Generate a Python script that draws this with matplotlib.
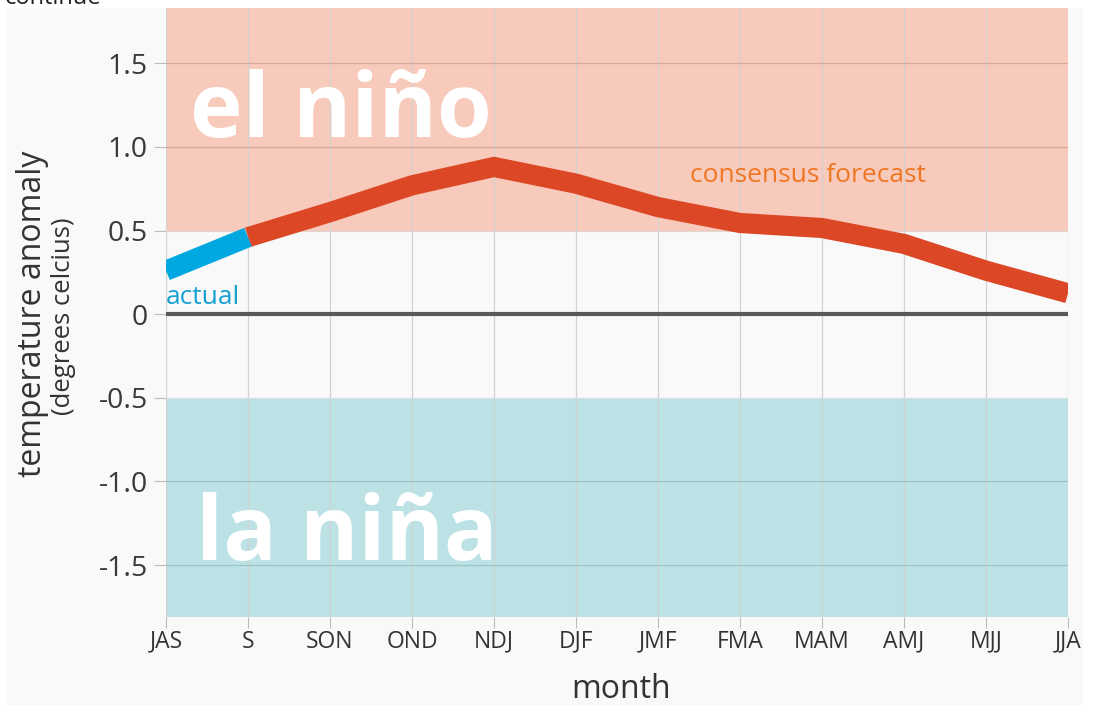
import matplotlib
matplotlib.use("Agg")
import matplotlib.pyplot as plt
from matplotlib.patches import Rectangle

plt.rcParams['font.family'] = ['Open Sans', 'DejaVu Sans']

# seasons (3-month running periods) on the x axis
months = ['JAS', 'S', 'SON', 'OND', 'NDJ', 'DJF', 'JMF', 'FMA', 'MAM', 'AMJ', 'MJJ', 'JJA']

# observed values (first two points) and forecast (from S onward)
actual_months = ['JAS', 'S']
actual_vals = [0.26, 0.46]
forecast_months = ['S', 'SON', 'OND', 'NDJ', 'DJF', 'JMF', 'FMA', 'MAM', 'AMJ', 'MJJ', 'JJA']
forecast_vals = [0.46, 0.61, 0.77, 0.88, 0.78, 0.64, 0.545, 0.515, 0.42, 0.26, 0.125]

y_ticks = [-1.5, -1.0, -0.5, 0, 0.5, 1.0, 1.5]
y_labels = ['-1.5', '-1.0', '-0.5', '0', '0.5', '1.0', '1.5']

ymin, ymax = -1.81, 1.83

fig = plt.figure(figsize=(11, 7.08), dpi=100)
fig.patch.set_facecolor('white')
# light grey panel behind everything
fig.patches.append(Rectangle((7 / 1100, 3 / 708), 1076 / 1100, 697 / 708,
                             transform=fig.transFigure, facecolor='#f9f9f9',
                             edgecolor='none', zorder=-5))

ax = fig.add_axes([166 / 1100, 1 - 617 / 708, 902 / 1100, 609 / 708])
ax.set_facecolor('none')

x = list(range(len(months)))
idx = {m: i for i, m in enumerate(months)}

# el nino / la nina bands
ax.axhspan(0.5, ymax, color='#f8cabb', zorder=1, lw=0)
ax.axhspan(ymin, -0.5, color='#bce2e5', zorder=1, lw=0)

# grid
for xi in x:
    ax.axvline(xi, color='#d2d2d2', lw=0.9, zorder=2)
for yv in [1.0, 1.5]:
    ax.axhline(yv, color='#d9a999', lw=0.9, zorder=2)
for yv in [-1.0, -1.5]:
    ax.axhline(yv, color='#9cc3c6', lw=0.9, zorder=2)
ax.axhline(0.5, color='#e0d5d0', lw=0.8, zorder=2)
ax.axhline(-0.5, color='#d5e0e0', lw=0.8, zorder=2)

# zero line
ax.axhline(0, color='#58585a', lw=3, zorder=3)

ax.plot([idx[m] for m in forecast_months], forecast_vals, color='#dc4826',
        lw=14.5, solid_capstyle='butt', solid_joinstyle='miter', zorder=4)
ax.plot([idx[m] for m in actual_months], actual_vals, color='#00a8e1',
        lw=14.5, solid_capstyle='butt', zorder=5)

ax.set_xlim(0, len(months) - 1)
ax.set_ylim(ymin, ymax)
ax.set_xticks(x)
ax.set_xticklabels(months, fontsize=16.5, color='#333333')
ax.set_yticks(y_ticks)
ax.set_yticklabels(y_labels, fontsize=20.5, color='#3a3a3a')
ax.tick_params(axis='y', length=9, color='#bbbbbb', pad=4)
ax.tick_params(axis='x', length=8, color='#bbbbbb', pad=1)
for s in ax.spines.values():
    s.set_visible(False)

# big labels
ax.text(0.29, 1.06, 'el niño', fontsize=64, fontweight='bold', color='white',
        ha='left', va='baseline', zorder=3)
ax.text(0.37, -1.47, 'la niña', fontsize=64, fontweight='bold', color='white',
        ha='left', va='baseline', zorder=3)
ax.text(6.39, 0.83, 'consensus forecast', fontsize=19, color='#ef7622',
        ha='left', va='center', zorder=5)
ax.text(0.0, 0.10, 'actual', fontsize=19, color='#16a1d3',
        ha='left', va='center', zorder=5)

# axis titles
fig.text(33 / 1100, 1 - 314 / 708, 'temperature anomaly', rotation=90,
         fontsize=23, color='#333333', ha='center', va='center')
fig.text(64 / 1100, 1 - 316 / 708, '(degrees celcius)', rotation=90,
         fontsize=18.5, color='#333333', ha='center', va='center')
fig.text(621 / 1100, 1 - 689 / 708, 'month', fontsize=23, color='#333333',
         ha='center', va='center')
fig.text(5 / 1100, 1 + 2 / 708, 'continue', fontsize=17, color='#222222',
         ha='left', va='center')

fig.savefig('out.png', dpi=100, facecolor='white')
